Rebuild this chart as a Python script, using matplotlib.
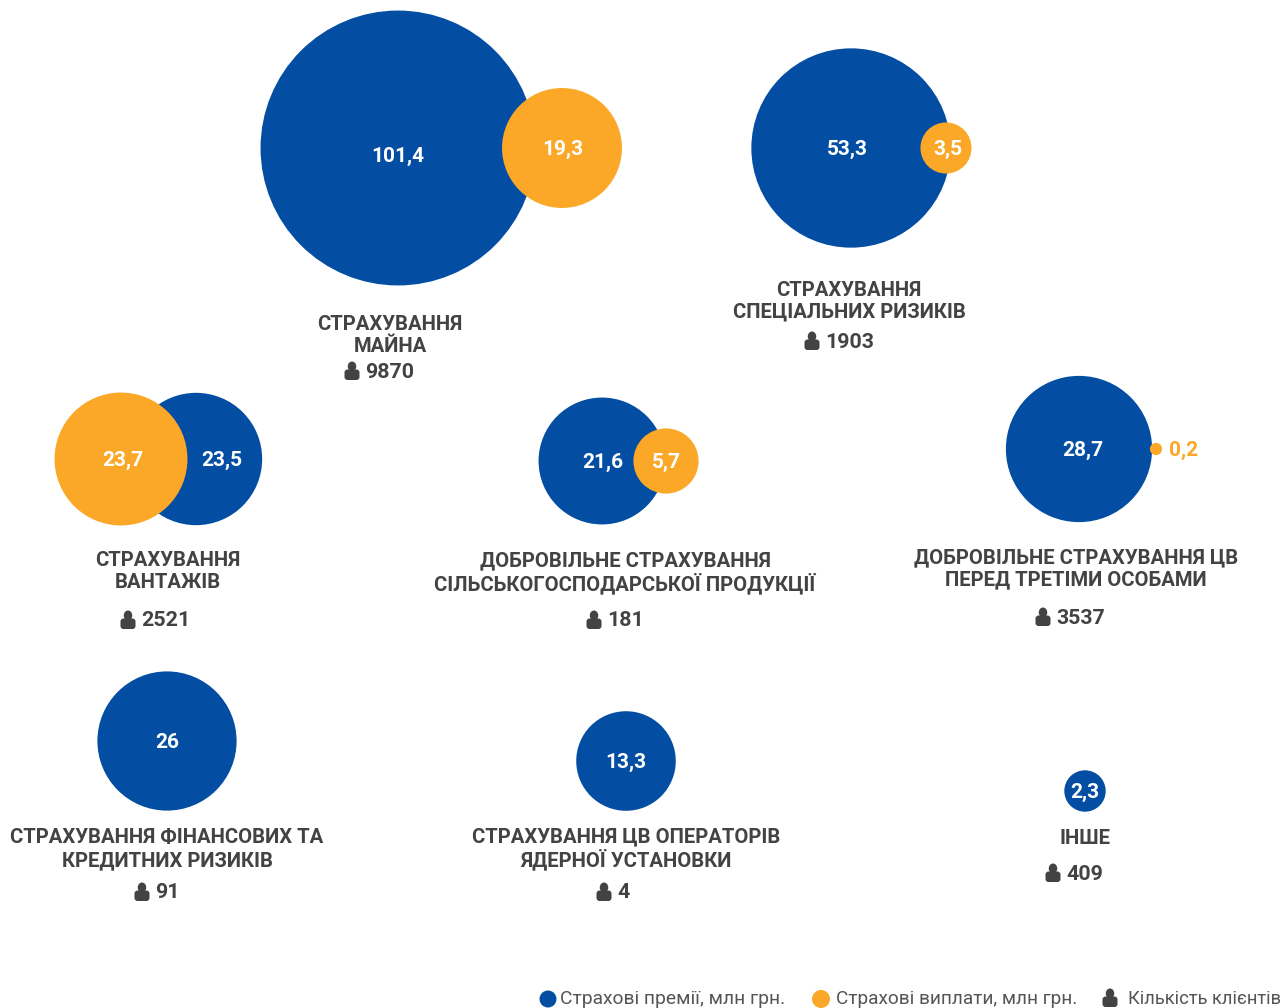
import matplotlib
matplotlib.use("Agg")
import matplotlib.pyplot as plt
from matplotlib.patches import Circle, Ellipse, FancyBboxPatch
import numpy as np

plt.rcParams["font.family"] = ["Roboto", "DejaVu Sans"]
BLUE, ORANGE, DARK, LEGEND = "#034EA2", "#FBA727", "#434343", "#555555"

# ---------------- data ----------------
premiums = [101.4, 53.3, 23.5, 21.6, 28.7, 26, 13.3, 2.3]
payouts  = [19.3, 3.5, 23.7, 5.7, 0.2, None, None, None]
clients  = [9870, 1903, 2521, 181, 3537, 91, 4, 409]
names = [
    ["СТРАХУВАННЯ", "МАЙНА"],
    ["СТРАХУВАННЯ", "СПЕЦІАЛЬНИХ РИЗИКІВ"],
    ["СТРАХУВАННЯ", "ВАНТАЖІВ"],
    ["ДОБРОВІЛЬНЕ СТРАХУВАННЯ", "СІЛЬСЬКОГОСПОДАРСЬКОЇ ПРОДУКЦІЇ"],
    ["ДОБРОВІЛЬНЕ СТРАХУВАННЯ ЦВ", "ПЕРЕД ТРЕТІМИ ОСОБАМИ"],
    ["СТРАХУВАННЯ ФІНАНСОВИХ ТА", "КРЕДИТНИХ РИЗИКІВ"],
    ["СТРАХУВАННЯ ЦВ ОПЕРАТОРІВ", "ЯДЕРНОЇ УСТАНОВКИ"],
    ["ІНШЕ"],
]
legend_labels = ["Страхові премії, млн грн.", "Страхові виплати, млн грн.", "Кількість клієнтів"]

# ---------------- layout (pixels) ----------------
blue_xy   = [(398, 148), (851, 148), (196, 459), (602, 461), (1079, 449), (167, 741), (626, 761), (1085, 791)]
orange_xy = [(562, 148), (946, 148), (121, 459), (666, 461), (1156, 449), None, None, None]
blue_txt  = [(398, 156), (847, 149), (222, 460), (603, 462), (1083, 450), (167, 742), (626, 762), (1085, 792)]
orange_txt = [(563, 149), (948, 149), (123, 460), (666, 462), (1184, 450), None, None, None]
name_xy   = [(390, 324), (849, 290), (168, 561), (625, 561), (1076, 558), (167, 838), (626, 837), (1085, 838)]
line_gap  = [22, 22, 22, 22, 22, 23, 22, 0]
client_xy = [(352, 372), (812, 342), (128, 621), (594, 621), (1043, 618), (142, 893), (604, 893), (1053, 874)]
SCALE = 13.65  # px of radius per sqrt(value)


def radius(v):
    return SCALE * np.sqrt(v)


def person(ax, x, y, color=DARK):
    ax.add_patch(Ellipse((x, y - 5.5), 8.5, 10, color=color, lw=0, zorder=5))
    ax.add_patch(FancyBboxPatch((x - 6, y - 1), 12, 7.5, boxstyle="round,pad=1.5,rounding_size=3",
                                color=color, lw=0, zorder=5))


fig = plt.figure(figsize=(12.8, 10.08), dpi=100)
ax = fig.add_axes([0, 0, 1, 1])
ax.set_xlim(0, 1280); ax.set_ylim(1008, 0)
ax.axis("off")

for i in range(len(premiums)):
    # orange sits on top of the blue circle
    ax.add_patch(Circle(blue_xy[i], radius(premiums[i]), color=BLUE, lw=0, zorder=2))
    ax.text(*blue_txt[i], f"{premiums[i]:g}".replace(".", ","), color="white", fontsize=15,
            fontweight="bold", ha="center", va="center", zorder=4)
    if payouts[i] is not None:
        ax.add_patch(Circle(orange_xy[i], radius(payouts[i]), color=ORANGE, lw=0, zorder=3))
        ax.text(*orange_txt[i], f"{payouts[i]:g}".replace(".", ","),
                color=ORANGE if payouts[i] < 1 else "white", fontsize=15,
                fontweight="bold", ha="center", va="center", zorder=4)
    nx, ny = name_xy[i]
    for j, line in enumerate(names[i]):
        ax.text(nx, ny + j * line_gap[i], line, color=DARK, fontsize=14.6, fontweight="bold",
                ha="center", va="center")
    cx, cy = client_xy[i]
    person(ax, cx, cy)
    ax.text(cx + 13, cy, str(clients[i]), color=DARK, fontsize=15.4, fontweight="bold",
            ha="left", va="center")

# legend
ax.add_patch(Circle((548, 999), 8.5, color=BLUE, lw=0))
ax.text(560, 999, legend_labels[0], color=LEGEND, fontsize=13.9, ha="left", va="center")
ax.add_patch(Circle((821, 999), 9, color=ORANGE, lw=0))
ax.text(836, 999, legend_labels[1], color=LEGEND, fontsize=13.7, ha="left", va="center")
person(ax, 1110, 999)
ax.text(1128, 999, legend_labels[2], color=LEGEND, fontsize=13.2, ha="left", va="center")

fig.savefig("out.png", dpi=100)
